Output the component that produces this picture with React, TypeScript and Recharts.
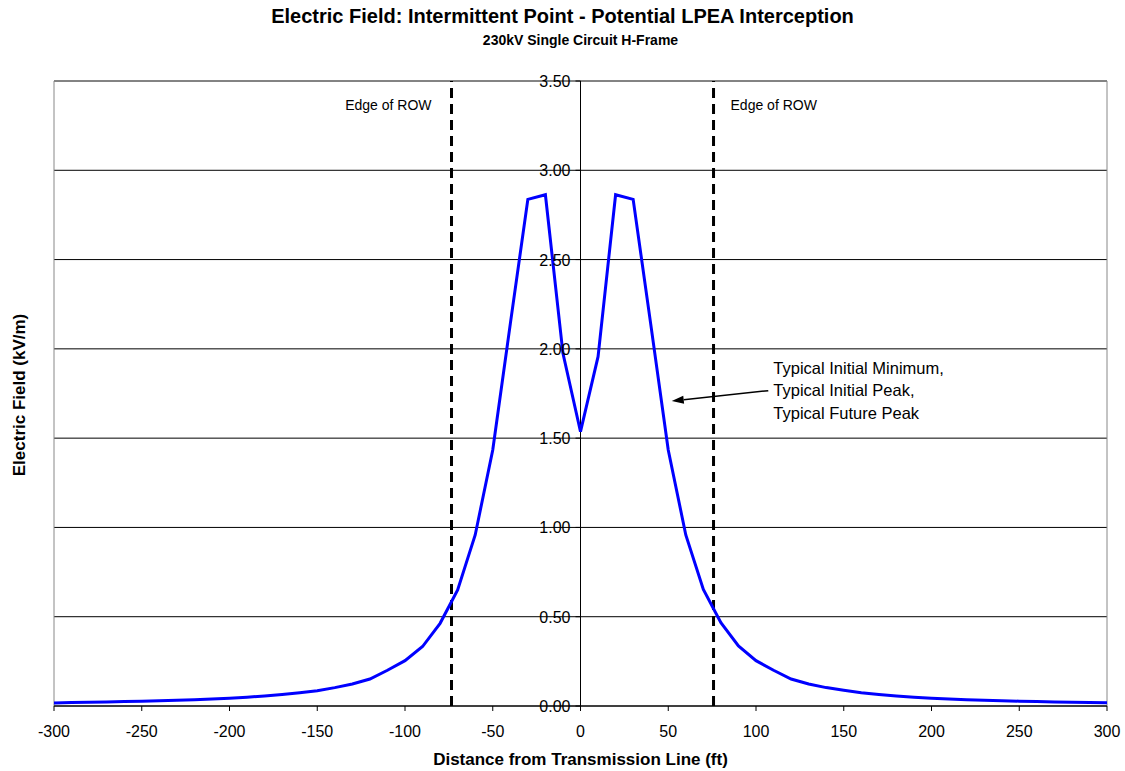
import React from 'react';
import { LineChart, Line, XAxis, YAxis, CartesianGrid, ReferenceLine } from 'recharts';

const DISTANCE_FT = [
  -300, -290, -280, -270, -260, -250, -240, -230, -220, -210,
  -200, -190, -180, -170, -160, -150, -140, -130, -120, -110,
  -100, -90, -80, -70, -60, -50, -40, -30, -20, -10,
  0, 10, 20, 30, 40, 50, 60, 70, 80, 90,
  100, 110, 120, 130, 140, 150, 160, 170, 180, 190,
  200, 210, 220, 230, 240, 250, 260, 270, 280, 290, 300,
];
const FIELD_KVM = [
  0.017, 0.019, 0.021, 0.023, 0.025, 0.027, 0.029, 0.032, 0.035, 0.039,
  0.043, 0.049, 0.056, 0.064, 0.074, 0.086, 0.103, 0.123, 0.151, 0.2,
  0.254, 0.333, 0.463, 0.65, 0.958, 1.434, 2.14, 2.837, 2.863, 1.975,
  1.536, 1.956, 2.863, 2.837, 2.14, 1.434, 0.958, 0.653, 0.467, 0.336,
  0.254, 0.2, 0.151, 0.123, 0.103, 0.088, 0.074, 0.064, 0.056, 0.049,
  0.043, 0.039, 0.035, 0.032, 0.029, 0.027, 0.025, 0.023, 0.021, 0.019, 0.018,
];
const X_TICKS = [-300, -250, -200, -150, -100, -50, 0, 50, 100, 150, 200, 250, 300];
const Y_TICKS = [0, 0.5, 1, 1.5, 2, 2.5, 3, 3.5];
const ROW_EDGES = [-73.5, 75.8];
const ROW_LABEL = 'Edge of ROW';
const ANNOTATION_LINES = ['Typical Initial Minimum,', 'Typical Initial Peak,', 'Typical Future Peak'];
const ANNOTATION_ARROW = [{ x: 52, y: 1.708 }, { x: 107, y: 1.766 }];

const data = DISTANCE_FT.map((x, i) => ({ x, e: FIELD_KVM[i] }));

const W = 1125;
const H = 771;
const M = { top: 81, right: 18, left: 53, bottom: 0 };
const Y_AXIS_W = 1;
const PLOT_LEFT = M.left + Y_AXIS_W;
const PLOT_CENTER_X = PLOT_LEFT + (W - PLOT_LEFT - M.right) / 2;
const FONT = '"Liberation Sans", Arial, sans-serif';

const YTick = (props: any) => {
  const { y, payload } = props;
  const cx = PLOT_CENTER_X;
  return (
    <g>
      <line x1={cx - 5} x2={cx} y1={y} y2={y} stroke="#000" />
      <text x={cx - 10} y={y + 6} textAnchor="end" fontSize={16} fill="#000">
        {Number(payload.value).toFixed(2)}
      </text>
    </g>
  );
};

const ArrowShape = (props: any) => {
  const { x1, y1, x2, y2 } = props;
  const ang = Math.atan2(y1 - y2, x1 - x2);
  const len = 12;
  const half = 4;
  const bx = x1 - len * Math.cos(ang);
  const by = y1 - len * Math.sin(ang);
  const px = -Math.sin(ang) * half;
  const py = Math.cos(ang) * half;
  return (
    <g>
      <line x1={bx} y1={by} x2={x2} y2={y2} stroke="#000" strokeWidth={1.5} />
      <polygon points={`${x1},${y1} ${bx + px},${by + py} ${bx - px},${by - py}`} fill="#000" />
      {ANNOTATION_LINES.map((t, i) => (
        <text key={i} x={x2 + 5} y={y2 - 17 + i * 22.5} fontSize={16.5} fill="#000">
          {t}
        </text>
      ))}
    </g>
  );
};

const rowLabel = (side: number) => (p: any) => {
  const vb = p.viewBox || {};
  return side < 0 ? (
    <text x={vb.x - 20} y={vb.y + 29} textAnchor="end" fontSize={14} fill="#000">{ROW_LABEL}</text>
  ) : (
    <text x={vb.x + 17} y={vb.y + 29} textAnchor="start" fontSize={14} fill="#000">{ROW_LABEL}</text>
  );
};

export default function App() {
  return (
    <div style={{ position: 'absolute', left: 0, top: 0, width: W, height: H, background: '#fff', fontFamily: FONT }}>
      <div style={{ position: 'absolute', left: 0, top: 5, width: W, textAlign: 'center', fontSize: 20, fontWeight: 'bold', lineHeight: '23px' }}>
        Electric Field: Intermittent Point - Potential LPEA Interception
      </div>
      <div style={{ position: 'absolute', left: 18, top: 31, width: W, textAlign: 'center', fontSize: 14, fontWeight: 'bold', lineHeight: '18px' }}>
        230kV Single Circuit H-Frame
      </div>
      <LineChart width={W} height={H} data={data} margin={M}>
        <CartesianGrid vertical={false} stroke="#000" />
        <XAxis
          type="number"
          dataKey="x"
          domain={[-300, 300]}
          ticks={X_TICKS}
          interval={0}
          height={65}
          tickSize={5}
          tickMargin={15}
          axisLine={{ stroke: '#000' }}
          tickLine={{ stroke: '#000' }}
          tick={{ fill: '#000', fontSize: 16 }}
        />
        <YAxis
          type="number"
          domain={[0, 3.5]}
          ticks={Y_TICKS}
          interval={0}
          width={Y_AXIS_W}
          axisLine={false}
          tickLine={false}
          tick={(p: any) => <YTick {...p} />}
        />
        <ReferenceLine y={3.5} stroke="#888" />
        <ReferenceLine x={-300} stroke="#888" />
        <ReferenceLine x={300} stroke="#888" />
        <ReferenceLine x={0} stroke="#000" />
        {ROW_EDGES.map((v, i) => (
          <ReferenceLine key={i} x={v} stroke="#000" strokeWidth={3} strokeDasharray="10 6" label={rowLabel(v)} />
        ))}
        <Line type="linear" dataKey="e" stroke="#0000FF" strokeWidth={3} dot={false} isAnimationActive={false} />
        <ReferenceLine segment={ANNOTATION_ARROW} shape={<ArrowShape />} />
      </LineChart>
      <div style={{ position: 'absolute', left: 20, top: 395, transform: 'translate(-50%, -50%) rotate(-90deg)', whiteSpace: 'nowrap', fontSize: 17, fontWeight: 'bold' }}>
        Electric Field (kV/m)
      </div>
      <div style={{ position: 'absolute', left: 0, top: 750, width: W, paddingLeft: 36, boxSizing: 'border-box', textAlign: 'center', fontSize: 17, fontWeight: 'bold', lineHeight: '20px' }}>
        Distance from Transmission Line (ft)
      </div>
    </div>
  );
}
